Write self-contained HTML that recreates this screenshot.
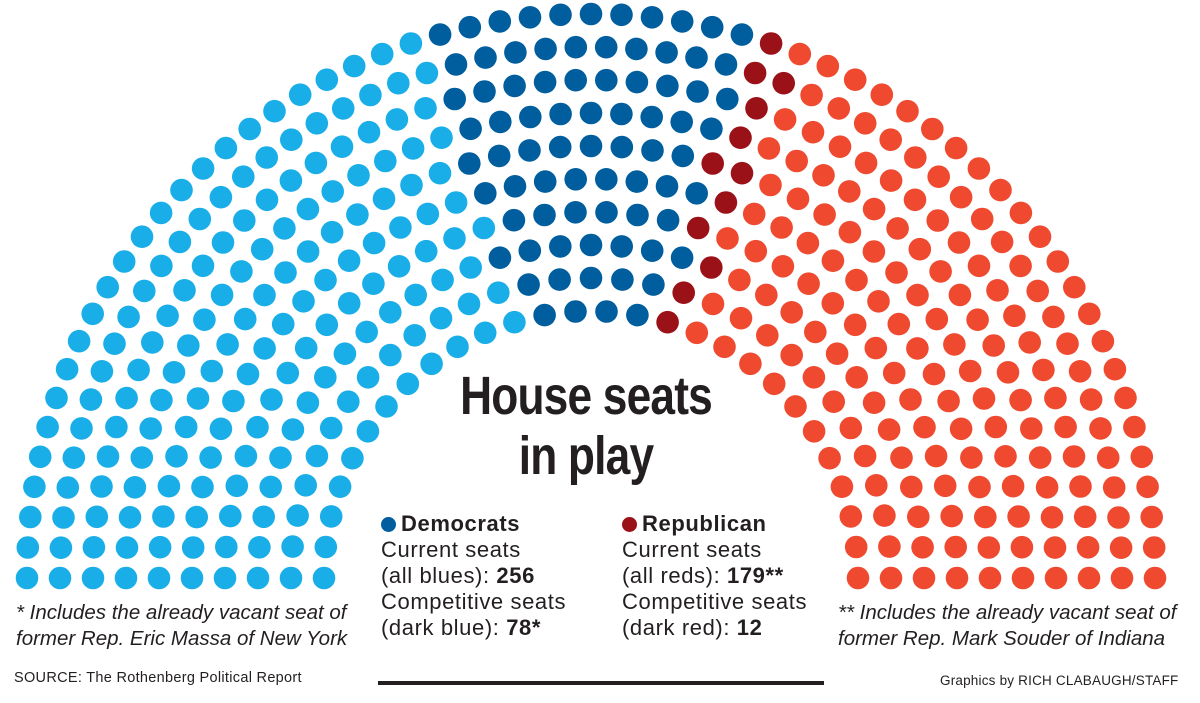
<!DOCTYPE html>
<html><head><meta charset="utf-8">
<style>
body{margin:0;background:#fff;width:1200px;height:703px;overflow:hidden;position:relative;font-family:"Liberation Sans",sans-serif;color:#222}
.t{position:absolute;white-space:nowrap}
.title{font-family:"Liberation Sans Narrow","Liberation Sans",sans-serif;font-weight:bold;font-size:54px;letter-spacing:-1px;color:#231f20;text-align:center;width:400px;left:386px;line-height:60px;transform:scaleX(0.82);transform-origin:center}
.leg{font-size:22px;letter-spacing:0.6px;line-height:26px;color:#231f20}
.fn{font-size:20.5px;font-style:italic;line-height:26px;color:#231f20}
.sm{font-size:14.5px;color:#231f20;letter-spacing:0.3px}
.dot{display:inline-block;width:15px;height:15px;border-radius:50%;vertical-align:-1px;margin-right:5px}
</style></head><body>
<svg id="s" width="1200" height="703" style="position:absolute;left:0;top:0"></svg>
<div class="t title" style="top:366px">House seats<br>in play</div>
<div class="t leg" style="left:381px;top:511px"><b><span class="dot" style="background:#005e9e"></span>Democrats</b><br>Current seats<br>(all blues): <b>256</b><br>Competitive seats<br>(dark blue): <b>78*</b></div>
<div class="t leg" style="left:622px;top:511px"><b><span class="dot" style="background:#9b1118"></span>Republican</b><br>Current seats<br>(all reds): <b>179**</b><br>Competitive seats<br>(dark red): <b>12</b></div>
<div class="t fn" style="left:16px;top:600px">* Includes the already vacant seat of<br>former Rep. Eric Massa of New York</div>
<div class="t fn" style="left:838px;top:600px">** Includes the already vacant seat of<br>former Rep. Mark Souder of Indiana</div>
<div class="t sm" style="left:14px;top:670px">SOURCE: The Rothenberg Political Report</div>
<div class="t sm" style="left:940px;top:673px;font-size:13.5px;letter-spacing:0.2px">Graphics by RICH CLABAUGH/STAFF</div>
<div style="position:absolute;left:378px;top:681px;width:446px;height:4px;background:#231f20"></div>
<script>
var cx=591,cy=578,counts=[28,31,35,38,42,45,49,52,56,59],seats=[];
for(var i=0;i<10;i++){var r=267+33*i,n=counts[i];for(var j=0;j<n;j++){var a=Math.PI*j/(n-1);seats.push({a:a,x:cx-r*Math.cos(a),y:cy-r*Math.sin(a)});}}
seats.sort(function(p,q){return p.a-q.a;});
var h='';
for(var k=0;k<seats.length;k++){var c=k<178?'#1aaee8':k<256?'#005e9e':k<268?'#9b1118':'#ef4a30';
h+='<circle cx="'+seats[k].x.toFixed(1)+'" cy="'+seats[k].y.toFixed(1)+'" r="11.3" fill="'+c+'"/>';}
document.getElementById('s').innerHTML=h;
</script>
</body></html>
